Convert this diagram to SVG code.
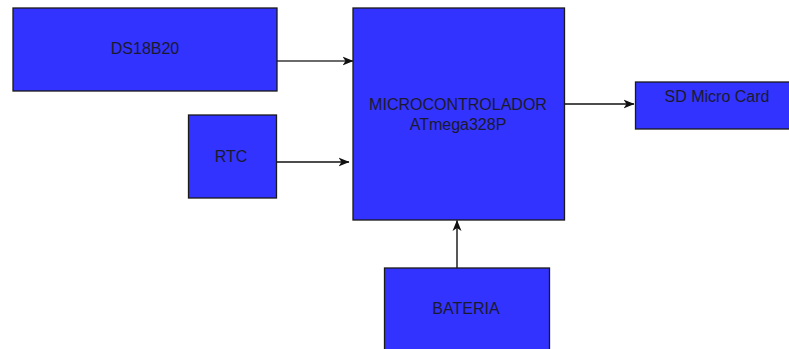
<svg xmlns="http://www.w3.org/2000/svg" width="789" height="349" viewBox="0 0 789 349">
<style>
.box{fill:#3333ff;stroke:#1a1a1a;stroke-width:1.3}
.lbl{font-family:"Liberation Sans",Arial,sans-serif;font-size:16px;fill:#1a1a2e;text-anchor:middle}
.ln{fill:none;stroke:#111;stroke-width:1.4}
</style>
<defs>
<marker id="ah" viewBox="0 0 11 10" refX="10.5" refY="5" markerWidth="11" markerHeight="10" markerUnits="userSpaceOnUse" orient="auto">
<path d="M0,0.5 L11,5 L0,9.5 L3,5 Z" fill="#111"/>
</marker>
</defs>
<rect width="789" height="349" fill="#fff"/>
<g id="connectors">
<line class="ln" x1="277" y1="61" x2="353" y2="61" style="stroke:#6a6a6a;stroke-width:2" marker-end="url(#ah)"/>
<line class="ln" x1="277" y1="162" x2="349" y2="162" marker-end="url(#ah)"/>
<line class="ln" x1="565" y1="104" x2="634" y2="104" marker-end="url(#ah)"/>
<line class="ln" x1="457" y1="268" x2="457" y2="220.5" marker-end="url(#ah)"/>
</g>
<g id="ds18b20">
<rect class="box" x="13" y="8" width="264" height="83"/>
<text class="lbl" x="145" y="54">DS18B20</text>
</g>
<g id="rtc">
<rect class="box" x="188.5" y="115" width="88" height="83"/>
<text class="lbl" x="231" y="162">RTC</text>
</g>
<g id="mcu">
<rect class="box" x="353" y="8" width="211.5" height="212"/>
<text class="lbl" x="458" y="110">MICROCONTROLADOR</text>
<text class="lbl" x="458" y="130">ATmega328P</text>
</g>
<g id="sdcard">
<rect class="box" x="635.5" y="82" width="164" height="47"/>
<text class="lbl" x="717" y="101.5">SD Micro Card</text>
</g>
<g id="bateria">
<rect class="box" x="384.5" y="268" width="165" height="90"/>
<text class="lbl" x="466" y="314">BATERIA</text>
</g>
</svg>
